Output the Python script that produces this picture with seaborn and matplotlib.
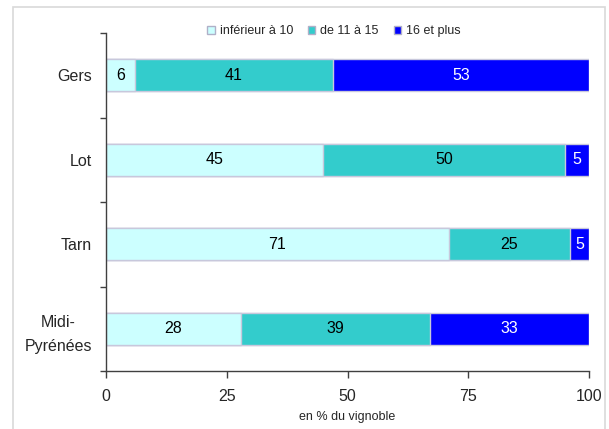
import matplotlib
matplotlib.use("Agg")
import matplotlib.pyplot as plt
from matplotlib.patches import Patch, Rectangle
import numpy as np
import pandas as pd
import seaborn as sns

categories = ["Gers", "Lot", "Tarn", "Midi-\nPyrénées"]
series_names = ["inférieur à 10", "de 11 à 15", "16 et plus"]
low = [6, 45, 71, 28]
mid = [41, 50, 25, 39]
high = [53, 5, 5, 33]
x_ticks = [0, 25, 50, 75, 100]
x_label = "en % du vignoble"

colors = ["#CCFFFF", "#33CCCC", "#0000FF"]
text_colors = ["black", "black", "white"]
edge = "#C8C8DC"

sns.set_theme(style="white")
plt.rcParams["font.family"] = ["Liberation Sans", "DejaVu Sans"]

fig = plt.figure(figsize=(6.09, 4.29), dpi=100)
ax = fig.add_axes([106 / 609, 1 - 371 / 429, (589 - 106) / 609, (371 - 33) / 429])

# outer light frame
fig.patches.append(Rectangle((13 / 609, -0.05), (605 - 13) / 609, 1.05 - 7 / 429,
                             transform=fig.transFigure, fill=False,
                             edgecolor="#D9D9D9", linewidth=1.2))

series = [low, mid, high]
cum = np.cumsum(np.array(series), axis=0)
df = pd.DataFrame({"cat": categories})
for k in range(len(series) - 1, -1, -1):
    df["v"] = np.minimum(cum[k], 100)
    sns.barplot(data=df, x="v", y="cat", color=colors[k], width=0.38,
                edgecolor=edge, linewidth=1.0, saturation=1, ax=ax, orient="h")

for k in range(len(series)):
    for i, v in enumerate(series[k]):
        left = cum[k][i] - v
        right = min(cum[k][i], 100)
        ax.text((left + right) / 2, i, str(v), ha="center", va="center",
                color=text_colors[k], fontsize=11.5)

ax.set_xlim(0, 100)
ax.set_ylim(3.5, -0.5)
ax.set_xticks(x_ticks)
ax.set_xticklabels([str(t) for t in x_ticks], fontsize=11.5)
ax.set_xlabel(x_label, fontsize=9, labelpad=5)
ax.set_ylabel("")
ax.set_yticks(range(len(categories)))
ax.set_yticklabels(categories, fontsize=11.5, ha="right", multialignment="center",
                   linespacing=1.7)
ax.set_yticks(np.arange(-0.5, len(categories), 1.0), minor=True)
ax.tick_params(axis="y", which="major", length=0, pad=10)
ax.tick_params(axis="y", which="minor", length=4, width=1, color="#404040", direction="out", left=True)
ax.tick_params(axis="x", which="major", length=5, width=1, color="#404040", direction="out", bottom=True, pad=8)
for s in ["top", "right"]:
    ax.spines[s].set_visible(False)
for s in ["left", "bottom"]:
    ax.spines[s].set_color("#404040")
    ax.spines[s].set_linewidth(1)

handles = [Patch(facecolor=c, edgecolor="#B0B0C8", label=n) for c, n in zip(colors, series_names)]
fig.legend(handles=handles, loc="center", bbox_to_anchor=(334 / 609, 1 - 31 / 429),
           ncol=3, frameon=False, fontsize=9, handlelength=0.6, handleheight=0.6,
           handletextpad=0.4, columnspacing=1.2, borderpad=0)

fig.savefig("out.png", dpi=100)
